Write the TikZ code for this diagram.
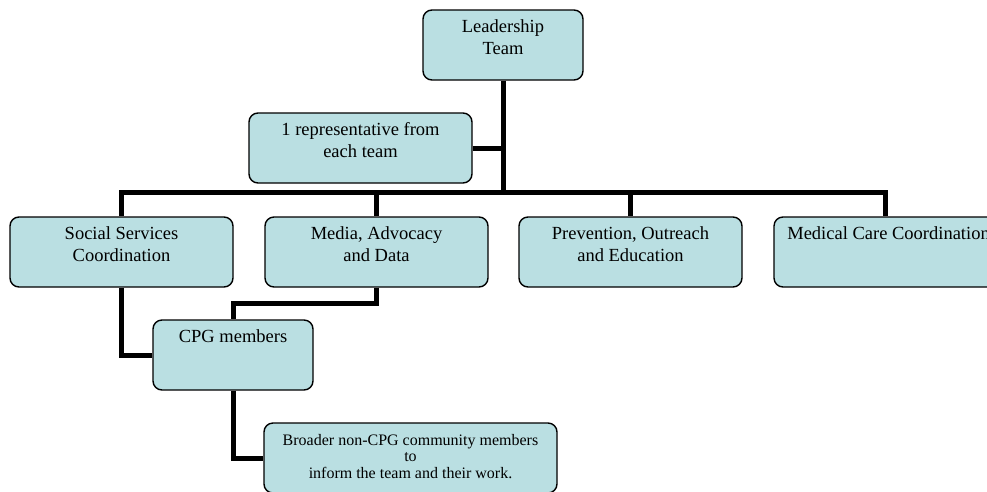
\documentclass[tikz,border=0pt]{standalone}
\usepackage{fontspec}
\setmainfont{Liberation Serif}
\usetikzlibrary{positioning}
\definecolor{teamfill}{RGB}{186,223,226}
\tikzset{
  box/.style={draw=black, fill=teamfill, line width=1.4pt, rounded corners=9pt, minimum width=223pt, minimum height=70pt, inner sep=0pt},
  narrowbox/.style={box, minimum width=160pt},
  txt/.style={align=center, inner sep=0pt, font=\fontsize{18.5}{22}\selectfont},
  smalltxt/.style={align=center, inner sep=0pt, font=\fontsize{16}{16.5}\selectfont},
  link/.style={line width=5pt}
}

\begin{document}
\begin{tikzpicture}[x=1pt, y=-1pt]
\useasboundingbox (0,0) rectangle (987,491);
% boxes
\node[narrowbox] (lead) at (503,45) {};
\node[box] (rep) at (360.5,148) {};
\node[box] (social) at (121.5,252) {};
\node[box] (media) at (376.5,252) {};
\node[box] (prev) at (630.5,252) {};
\node[box] (med) at (885.5,252) {};
\node[narrowbox] (cpg) at (233,355) {};
\node[box, minimum width=293pt] (broader) at (410.5,458) {};
% texts, set at the top of each box
\node[txt, below=10.4pt of lead.north] (leadtxt) {Leadership\\Team};
\node[txt, below=10.4pt of rep.north] (reptxt) {1 representative from\\each team};
\node[txt, below=10.4pt of social.north] (socialtxt) {Social Services\\Coordination};
\node[txt, below=10.4pt of media.north] (mediatxt) {Media, Advocacy\\and Data};
\node[txt, below=10.4pt of prev.north] (prevtxt) {Prevention, Outreach\\and Education};
\node[txt, below=10.4pt of med.north, xshift=3pt] (medtxt) {Medical Care Coordination};
\node[txt, below=10.4pt of cpg.north] (cpgtxt) {CPG members};
\node[smalltxt, below=11.6pt of broader.north] (broadertxt) {Broader non-CPG community members\\to\\inform the team and their work.};
% connectors
\coordinate (bus) at (503,192);
\draw[link] (lead.south) -- (bus);
\draw[link] (rep.east) -- (rep.east -| lead.south);
\foreach \team in {social,media,prev,med}{
  \draw[link] (bus) -| (\team.north);
}
\draw[link] (social.south) |- (cpg.west);
\draw[link] (media.south) -- ++(0,16) -| (cpg.north);
\draw[link] (cpg.south) |- (broader.west);
\end{tikzpicture}
\end{document}
